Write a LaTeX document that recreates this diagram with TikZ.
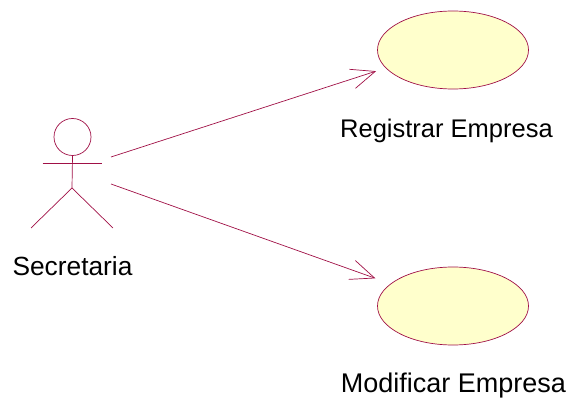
\documentclass[tikz,border=0pt]{standalone}
\usepackage{fontspec}
\setmainfont{Liberation Sans}
\usetikzlibrary{shapes.geometric,arrows.meta}
\definecolor{umlline}{RGB}{160,16,70}
\definecolor{umlfill}{RGB}{255,255,204}
\tikzset{
	usecase/.style={draw=umlline,fill=umlfill,ellipse,minimum width=151pt,minimum height=78pt,inner sep=0pt},
	umllabel/.style={inner sep=0pt,font=\fontsize{#1}{28}\selectfont},
	umllabel/.default=26,
	limb/.style={draw=umlline},
	assoc/.style={draw=umlline,-{Straight Barb[length=24pt,width=20pt,line width=0.7pt]},shorten >=#1},
}
\begin{document}
\begin{tikzpicture}[x=1pt,y=-1pt,line width=0.7pt]
	\useasboundingbox (0,0) rectangle (570,398);
	% actor
	\node[draw=umlline,circle,minimum size=37pt,inner sep=0pt] (head) at (72.5,137) {};
	\coordinate (hip) at (72,188);
	\coordinate (armL) at (42.5,163);
	\coordinate (armR) at (101.5,163);
	\coordinate (footL) at (31,228);
	\coordinate (footR) at (113,228);
	\draw[limb] (head.south) -- (hip);
	\draw[limb] (armL) -- (armR);
	\draw[limb] (footL) -- (hip) -- (footR);
	\node[umllabel=26.3] (actor) at (72.5,266) {Secretaria};
	% use cases
	\node[usecase] (registrar) at (453,50) {};
	\node[usecase] (modificar) at (453,306) {};
	\node[umllabel=25.5] (registrarL) at (446.5,130.5) {Registrar Empresa};
	\node[umllabel=27] (modificarL) at (453.5,386) {Modificar Empresa};
	% associations
	\coordinate (startA) at (111,157);
	\coordinate (startB) at (111,184);
	\draw[assoc=10pt] (startA) -- (registrar.195);
	\draw[assoc=16pt] (startB) -- (modificar);
\end{tikzpicture}
\end{document}
